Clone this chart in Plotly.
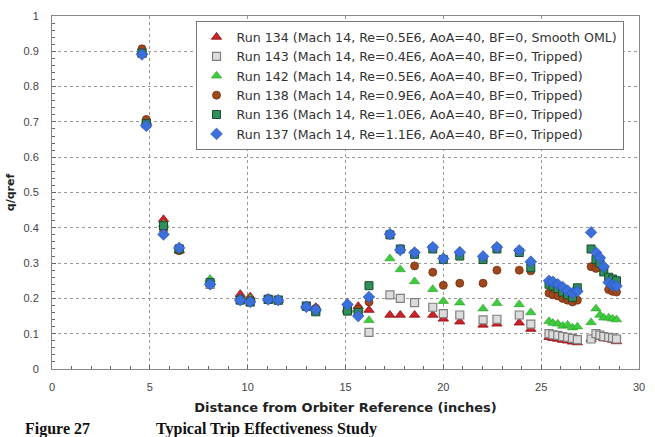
import plotly.graph_objects as go

distance = [4.6, 4.82, 5.7, 6.5, 8.08, 9.62, 10.13, 11.05, 11.56, 13.0, 13.48,
            15.1, 15.65, 16.2, 17.27, 17.8, 18.53, 19.46, 20.0, 20.84, 22.03,
            22.74, 23.88, 24.47,
            25.4, 25.6, 25.85, 26.1, 26.35, 26.6, 26.85,
            27.55, 27.8, 28.0, 28.2, 28.45, 28.65, 28.85]

run134 = [0.90, 0.70, 0.424, 0.335, 0.245, 0.212, 0.205, 0.200, 0.195, 0.178, 0.175,
          0.170, 0.178, 0.167, 0.153, 0.153, 0.153, 0.153, 0.142, 0.134, 0.125,
          0.128, 0.131, 0.113,
          0.090, 0.087, 0.085, 0.082, 0.080, 0.077, 0.075,
          0.085, 0.092, 0.090, 0.086, 0.085, 0.082, 0.078]
run143 = [0.895, 0.695, 0.400, 0.340, 0.240, 0.197, 0.190, 0.197, 0.195, 0.178, 0.165,
          0.170, 0.165, 0.104, 0.210, 0.200, 0.188, 0.175, 0.157, 0.153, 0.139,
          0.141, 0.153, 0.127,
          0.100, 0.097, 0.095, 0.092, 0.090, 0.087, 0.083,
          0.085, 0.100, 0.096, 0.092, 0.090, 0.088, 0.085]
run142 = [0.90, 0.70, 0.410, 0.340, 0.255, 0.200, 0.200, 0.200, 0.195, 0.178, 0.170,
          0.165, 0.170, 0.138, 0.313, 0.282, 0.248, 0.226, 0.192, 0.188, 0.171,
          0.186, 0.183, 0.160,
          0.135, 0.130, 0.128, 0.122, 0.125, 0.117, 0.120,
          0.132, 0.171, 0.153, 0.145, 0.145, 0.142, 0.140]
run138 = [0.907, 0.707, 0.400, 0.335, 0.245, 0.200, 0.195, 0.200, 0.195, 0.178, 0.172,
          0.172, 0.170, 0.190, 0.382, 0.340, 0.292, 0.274, 0.237, 0.243, 0.243,
          0.280, 0.280, 0.278,
          0.215, 0.210, 0.207, 0.200, 0.195, 0.190, 0.195,
          0.290, 0.285, 0.305, 0.280, 0.225, 0.220, 0.218]
run136 = [0.895, 0.695, 0.406, 0.340, 0.245, 0.195, 0.190, 0.197, 0.195, 0.178, 0.162,
          0.164, 0.160, 0.236, 0.380, 0.340, 0.325, 0.340, 0.310, 0.320, 0.310,
          0.340, 0.330, 0.287,
          0.240, 0.235, 0.228, 0.218, 0.210, 0.203, 0.230,
          0.340, 0.310, 0.300, 0.275, 0.260, 0.255, 0.250]
run137 = [0.891, 0.689, 0.381, 0.343, 0.240, 0.195, 0.190, 0.197, 0.195, 0.176, 0.168,
          0.183, 0.150, 0.204, 0.382, 0.337, 0.330, 0.345, 0.313, 0.331, 0.319,
          0.345, 0.336, 0.304,
          0.250, 0.247, 0.240, 0.232, 0.222, 0.215, 0.220,
          0.387, 0.330, 0.315, 0.290, 0.245, 0.237, 0.235]

names = [
    "Run 134 (Mach 14, Re=0.5E6, AoA=40, BF=0, Smooth OML)",
    "Run 143 (Mach 14, Re=0.4E6, AoA=40, BF=0, Tripped)",
    "Run 142 (Mach 14, Re=0.5E6, AoA=40, BF=0, Tripped)",
    "Run 138 (Mach 14, Re=0.9E6, AoA=40, BF=0, Tripped)",
    "Run 136 (Mach 14, Re=1.0E6, AoA=40, BF=0, Tripped)",
    "Run 137 (Mach 14, Re=1.1E6, AoA=40, BF=0, Tripped)",
]
series = [run134, run143, run142, run138, run136, run137]
styles = [
    dict(symbol="triangle-up", size=9, color="#cc2229", line=dict(color="#8a1015", width=0.8)),
    dict(symbol="square", size=8, color="#dcdcdc", line=dict(color="#7f7f7f", width=1.2)),
    dict(symbol="triangle-up", size=9, color="#3ccc3c", line=dict(color="#2a9a2a", width=0.6)),
    dict(symbol="circle", size=8, color="#a0481c", line=dict(color="#6e2e10", width=0.8)),
    dict(symbol="square", size=8, color="#2f8f5a", line=dict(color="#1d4a30", width=1)),
    dict(symbol="diamond", size=9, color="#3a6fdc", line=dict(color="#2a50a8", width=0.6)),
]

fig = go.Figure()
for nm, ys, st in zip(names, series, styles):
    fig.add_trace(go.Scatter(x=distance, y=ys, mode="markers", name=nm, marker=st))

axis_font = dict(family="Liberation Sans, Arial", size=11, color="#444")
fig.update_layout(
    width=655, height=437,
    margin=dict(l=50, r=16, t=10, b=68),
    paper_bgcolor="white", plot_bgcolor="white",
    showlegend=True,
    legend=dict(x=0.2445, y=0.985, xanchor="left", yanchor="top",
                bgcolor="white", bordercolor="#777", borderwidth=1,
                font=dict(family="DejaVu Sans", size=12.6, color="#333"),
                tracegroupgap=0, itemwidth=30),
    xaxis=dict(range=[0, 30], dtick=5, tick0=0, showgrid=True, gridcolor="#999",
               griddash="dot", gridwidth=1, zeroline=False,
               showline=True, linecolor="#888", linewidth=1, mirror=True,
               ticks="inside", ticklen=4, tickcolor="#666",
               minor=dict(dtick=1, ticks="inside", ticklen=3, tickcolor="#666", showgrid=False),
               tickfont=axis_font, ticklabelstandoff=8,
               title=dict(text="<b>Distance from Orbiter Reference (inches)</b>",
                          font=dict(family="DejaVu Sans", size=13, color="#222"), standoff=10)),
    yaxis=dict(range=[0, 1], dtick=0.1, tick0=0, showgrid=True, gridcolor="#999",
               griddash="dot", gridwidth=1, zeroline=False,
               showline=True, linecolor="#888", linewidth=1, mirror=True,
               ticks="inside", ticklen=4, tickcolor="#666",
               minor=dict(dtick=0.02, ticks="inside", ticklen=3, tickcolor="#666", showgrid=False),
               tickfont=axis_font, tickformat="~g", ticklabelstandoff=10,
               title=dict(text="<b>q/qref</b>",
                          font=dict(family="DejaVu Sans", size=11, color="#222"), standoff=6)),
    annotations=[
        dict(text="<b>Figure 27</b>", xref="paper", yref="paper",
             x=(90 - 50) / 589, y=(369 - 419) / 359, xanchor="right", yanchor="top",
             showarrow=False, font=dict(family="Liberation Serif", size=16, color="#111")),
        dict(text="<b>Typical Trip Effectiveness Study</b>", xref="paper", yref="paper",
             x=(152 - 50) / 589, y=(369 - 419) / 359, xanchor="left", yanchor="top",
             showarrow=False, font=dict(family="Liberation Serif", size=16, color="#111")),
    ],
)
fig.write_html("out.html")
